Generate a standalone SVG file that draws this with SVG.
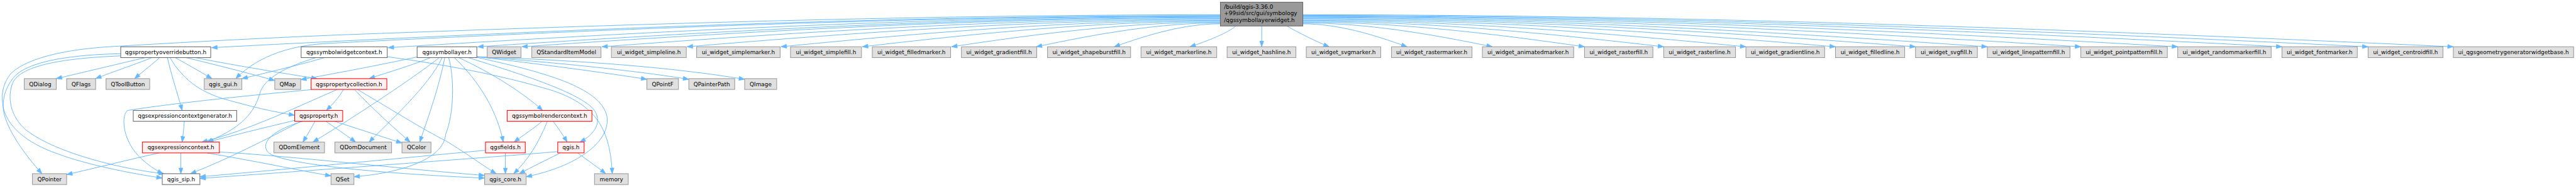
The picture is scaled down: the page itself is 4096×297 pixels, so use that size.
<svg xmlns="http://www.w3.org/2000/svg" width="4096" height="297" viewBox="0 0 4096 297">
<style>
text{font-family:"DejaVu Sans","Liberation Sans",sans-serif;font-size:13px;fill:#000;text-anchor:middle}
.root text{text-anchor:start}
rect{stroke-width:1.5}
.w rect{fill:#fff;stroke:#666}
.g rect{fill:#e0e0e0;stroke:#999}
.r rect{fill:#fff0f0;stroke:#f00}
.root rect{fill:#999;stroke:#666}
#edges path{fill:none;stroke:#63b8ff;stroke-width:1.4;marker-end:url(#ah)}
</style>
<defs>
<marker id="ah" markerUnits="userSpaceOnUse" markerWidth="14" markerHeight="10" refX="13" refY="4.7" orient="auto" overflow="visible"><path d="M0,0 L13,4.7 L0,9.4 z" fill="#63b8ff" stroke="#63b8ff" stroke-width="1"/></marker>
</defs>
<rect width="4096" height="297" fill="#fff" stroke="none"/>
<g transform="scale(0.688)">
<g id="edges">
<path d="M2820,36 C2043,36 1266,69.3 489,110"/>
<path d="M2820,38 C2179,38 1538,70.4 897,110"/>
<path d="M2820,39.5 C2248,39.5 1676,70.3 1104,108"/>
<path d="M2820,41 C2282,41 1744,71.2 1206,108"/>
<path d="M2820,43 C2344,43 1867,72.3 1391,108"/>
<path d="M2820,45 C2409,45 1999,73.4 1588,108"/>
<path d="M2820,47 C2482,47 2143,74.5 1805,108"/>
<path d="M2820,49 C2544,49 2269,75.6 1993,108"/>
<path d="M2820,51 C2613,51 2406,76.7 2199,108"/>
<path d="M2820,53 C2678,53 2537,77.8 2395,108"/>
<path d="M2820,55 C2738,55 2657,78.9 2575,108"/>
<path d="M2856,60 C2840,75 2790,95 2750,108"/>
<path d="M2820,37 C2050,37 1250,75 760,100 C680,104 600,125 545,181.5"/>
<path d="M2820,34 C2050,34 1300,62 800,80 C600,88 420,98 267,107 C150,113 60,135 25,170 C5,195 3,220 7,245 C15,290 60,330 133,355 C200,380 300,400 375,411"/>
<path d="M2916,60 L2916,108"/>
<path d="M2974,60 C3000,75 3040,95 3072,108"/>
<path d="M3011,55 C3091,55 3172,78.9 3252,108"/>
<path d="M3011,53 C3157,53 3303,77.8 3449,108"/>
<path d="M3011,51 C3228,51 3445,76.7 3662,108"/>
<path d="M3011,49 C3289,49 3567,75.6 3845,108"/>
<path d="M3011,47 C3352,47 3694,74.5 4035,108"/>
<path d="M3011,45 C3421,45 3832,73.4 4242,108"/>
<path d="M3011,43 C3483,43 3955,72.3 4427,108"/>
<path d="M3011,41 C3538,41 4066,71.2 4593,108"/>
<path d="M3011,39.5 C3610,39.5 4210,70.3 4809,108"/>
<path d="M3011,38 C3685,38 4359,69.5 5033,108"/>
<path d="M3011,37 C3765,37 4520,69 5274,108"/>
<path d="M3011,35.5 C3832,35.5 4652,68.1 5473,108"/>
<path d="M3011,34 C3897,34 4784,67.3 5670,108"/>
<path d="M336,133 C280,146 180,170 130,181.5"/>
<path d="M351,133 C320,146 260,166 221,181.5"/>
<path d="M369,133 C355,146 330,165 311,181.5"/>
<path d="M387,133 C395,170 410,215 421,255"/>
<path d="M393,133 C420,180 460,212 520,229 C580,246 630,258 681,266"/>
<path d="M405,133 C430,147 460,164 490,181.5"/>
<path d="M430,133 C500,150 580,170 635,186"/>
<path d="M452,133 C520,147 640,167 733,181.5"/>
<path d="M279,124 C170,126 70,140 35,175 C12,200 5,230 8,255 C15,300 60,360 97,401"/>
<path d="M279,129 C150,134 50,150 30,190 C15,225 25,270 60,300 C130,355 290,392 380,401"/>
<path d="M750,133 C700,148 620,167 559,181.5"/>
<path d="M730,133 C660,155 610,180 600,217 C585,270 545,300 478,328"/>
<path d="M895,131 C1000,145 1150,170 1280,210 C1380,245 1410,300 1415,401"/>
<path d="M966,131 C880,150 760,172 695,184"/>
<path d="M995,133 C960,148 900,166 853,181.5"/>
<path d="M1015,133 C970,170 820,270 723,328"/>
<path d="M1022,133 C990,200 900,280 853,328"/>
<path d="M1028,133 C1015,200 990,270 970,328"/>
<path d="M1037,133 C1050,180 1050,260 1030,310 C1025,370 920,400 818,408"/>
<path d="M1050,133 C1110,190 1150,260 1163,328"/>
<path d="M1060,133 C1140,170 1210,215 1254,255"/>
<path d="M1082,133 C1200,170 1330,210 1370,250 C1395,280 1375,310 1340,328"/>
<path d="M1100,132 C1250,165 1390,200 1403,270 C1410,330 1330,385 1216,408"/>
<path d="M1102,131 C1250,148 1400,168 1495,183"/>
<path d="M1102,131 C1300,145 1480,165 1592,183"/>
<path d="M1102,131 C1350,140 1550,155 1721,183"/>
<path d="M794,206.5 C785,222 770,240 754,255"/>
<path d="M819,206.5 C860,250 910,295 948,328"/>
<path d="M826,206.5 C900,250 980,300 1030,325 C1080,355 1120,385 1147,401"/>
<path d="M780,206.5 C700,240 580,300 466,328"/>
<path d="M719,207 C600,218 400,238 295,255 C280,265 282,320 320,360 C340,380 360,393 377,401"/>
<path d="M728,280 C720,295 710,312 700,328"/>
<path d="M753,280 C775,295 800,312 822,328"/>
<path d="M773,280 C830,298 890,318 929,330"/>
<path d="M700,280 C630,300 600,330 620,352 C650,380 900,402 1120,411"/>
<path d="M695,280 C620,320 520,370 440,401"/>
<path d="M681,278 C610,295 540,312 480,328"/>
<path d="M426,280 C425,295 423,312 421,328"/>
<path d="M368,353 C300,368 220,388 154,403"/>
<path d="M418,353 L418,401"/>
<path d="M478,353 C580,370 700,395 765,406"/>
<path d="M507,351 C650,358 950,392 1120,405"/>
<path d="M1253,280 C1235,295 1210,312 1188,328"/>
<path d="M1265,280 C1245,330 1220,370 1187,401"/>
<path d="M1278,280 C1290,295 1300,310 1311,328"/>
<path d="M1168,353 L1168,401"/>
<path d="M1122,347 C1000,358 650,392 462,408"/>
<path d="M1295,353 C1265,368 1230,385 1200,401"/>
<path d="M1335,353 C1355,368 1380,385 1400,401"/>
<path d="M1289,350 C1150,362 700,395 462,412"/>
</g>
<g id="node-root" class="root"><rect x="2820.5" y="5" width="190.5" height="55"/><text x="2829" y="20.5">/build/qgis-3.36.0</text><text x="2829" y="35.5">+99sid/src/gui/symbology</text><text x="2829" y="50.5">/qgssymbollayerwidget.h</text></g>
<g id="node-qgspropertyoverridebutton" class="w"><rect x="279" y="108" width="208" height="25"/><text x="383" y="125">qgspropertyoverridebutton.h</text></g>
<g id="node-qgssymbolwidgetcontext" class="w"><rect x="696" y="108" width="199" height="25"/><text x="795.5" y="125">qgssymbolwidgetcontext.h</text></g>
<g id="node-qgssymbollayer" class="w"><rect x="964" y="108" width="138" height="25"/><text x="1033" y="125">qgssymbollayer.h</text></g>
<g id="node-QWidget" class="g"><rect x="1126" y="108" width="78" height="25"/><text x="1165" y="125">QWidget</text></g>
<g id="node-QStandardItemModel" class="g"><rect x="1229" y="108" width="160" height="25"/><text x="1309" y="125">QStandardItemModel</text></g>
<g id="node-ui_widget_simpleline" class="g"><rect x="1413" y="108" width="173" height="25"/><text x="1499.5" y="125">ui_widget_simpleline.h</text></g>
<g id="node-ui_widget_simplemarker" class="g"><rect x="1610" y="108" width="193" height="25"/><text x="1706.5" y="125">ui_widget_simplemarker.h</text></g>
<g id="node-ui_widget_simplefill" class="g"><rect x="1827" y="108" width="164" height="25"/><text x="1909" y="125">ui_widget_simplefill.h</text></g>
<g id="node-ui_widget_filledmarker" class="g"><rect x="2016" y="108" width="181" height="25"/><text x="2106.5" y="125">ui_widget_filledmarker.h</text></g>
<g id="node-ui_widget_gradientfill" class="g"><rect x="2222" y="108" width="174" height="25"/><text x="2309" y="125">ui_widget_gradientfill.h</text></g>
<g id="node-ui_widget_shapeburstfill" class="g"><rect x="2421" y="108" width="192" height="25"/><text x="2517" y="125">ui_widget_shapeburstfill.h</text></g>
<g id="node-ui_widget_markerline" class="g"><rect x="2637" y="108" width="175" height="25"/><text x="2724.5" y="125">ui_widget_markerline.h</text></g>
<g id="node-ui_widget_hashline" class="g"><rect x="2836" y="108" width="159" height="25"/><text x="2915.5" y="125">ui_widget_hashline.h</text></g>
<g id="node-ui_widget_svgmarker" class="g"><rect x="3019" y="108" width="172" height="25"/><text x="3105" y="125">ui_widget_svgmarker.h</text></g>
<g id="node-ui_widget_rastermarker" class="g"><rect x="3216" y="108" width="186" height="25"/><text x="3309" y="125">ui_widget_rastermarker.h</text></g>
<g id="node-ui_widget_animatedmarker" class="g"><rect x="3426" y="108" width="211" height="25"/><text x="3531.5" y="125">ui_widget_animatedmarker.h</text></g>
<g id="node-ui_widget_rasterfill" class="g"><rect x="3662" y="108" width="158" height="25"/><text x="3741" y="125">ui_widget_rasterfill.h</text></g>
<g id="node-ui_widget_rasterline" class="g"><rect x="3845" y="108" width="166" height="25"/><text x="3928" y="125">ui_widget_rasterline.h</text></g>
<g id="node-ui_widget_gradientline" class="g"><rect x="4035" y="108" width="182" height="25"/><text x="4126" y="125">ui_widget_gradientline.h</text></g>
<g id="node-ui_widget_filledline" class="g"><rect x="4242" y="108" width="160" height="25"/><text x="4322" y="125">ui_widget_filledline.h</text></g>
<g id="node-ui_widget_svgfill" class="g"><rect x="4427" y="108" width="143" height="25"/><text x="4498.5" y="125">ui_widget_svgfill.h</text></g>
<g id="node-ui_widget_linepatternfill" class="g"><rect x="4593" y="108" width="191" height="25"/><text x="4688.5" y="125">ui_widget_linepatternfill.h</text></g>
<g id="node-ui_widget_pointpatternfill" class="g"><rect x="4809" y="108" width="200" height="25"/><text x="4909" y="125">ui_widget_pointpatternfill.h</text></g>
<g id="node-ui_widget_randommarkerfill" class="g"><rect x="5033" y="108" width="216" height="25"/><text x="5141" y="125">ui_widget_randommarkerfill.h</text></g>
<g id="node-ui_widget_fontmarker" class="g"><rect x="5274" y="108" width="174" height="25"/><text x="5361" y="125">ui_widget_fontmarker.h</text></g>
<g id="node-ui_widget_centroidfill" class="g"><rect x="5473" y="108" width="173" height="25"/><text x="5559.5" y="125">ui_widget_centroidfill.h</text></g>
<g id="node-ui_qgsgeometrygeneratorwidgetbase" class="g"><rect x="5670" y="108" width="278" height="25"/><text x="5809" y="125">ui_qgsgeometrygeneratorwidgetbase.h</text></g>
<g id="node-QDialog" class="g"><rect x="56" y="181.5" width="74" height="25"/><text x="93" y="198.5">QDialog</text></g>
<g id="node-QFlags" class="g"><rect x="154" y="181.5" width="67" height="25"/><text x="187.5" y="198.5">QFlags</text></g>
<g id="node-QToolButton" class="g"><rect x="245" y="181.5" width="101" height="25"/><text x="295.5" y="198.5">QToolButton</text></g>
<g id="node-qgis_gui" class="g"><rect x="472" y="181.5" width="87" height="25"/><text x="515.5" y="198.5">qgis_gui.h</text></g>
<g id="node-QMap" class="g"><rect x="635" y="181.5" width="60" height="25"/><text x="665" y="198.5">QMap</text></g>
<g id="node-qgspropertycollection" class="r"><rect x="719" y="181.5" width="175" height="25"/><text x="806.5" y="198.5">qgspropertycollection.h</text></g>
<g id="node-QPointF" class="g"><rect x="1495" y="181.5" width="73" height="25"/><text x="1531.5" y="198.5">QPointF</text></g>
<g id="node-QPainterPath" class="g"><rect x="1592" y="181.5" width="106" height="25"/><text x="1645" y="198.5">QPainterPath</text></g>
<g id="node-QImage" class="g"><rect x="1721" y="181.5" width="74" height="25"/><text x="1758" y="198.5">QImage</text></g>
<g id="node-qgsexpressioncontextgenerator" class="w"><rect x="308" y="255" width="239" height="25"/><text x="427.5" y="272">qgsexpressioncontextgenerator.h</text></g>
<g id="node-qgsproperty" class="r"><rect x="681" y="255" width="111" height="25"/><text x="736.5" y="272">qgsproperty.h</text></g>
<g id="node-qgssymbolrendercontext" class="r"><rect x="1172" y="255" width="196" height="25"/><text x="1270" y="272">qgssymbolrendercontext.h</text></g>
<g id="node-qgsexpressioncontext" class="r"><rect x="329" y="328" width="178" height="25"/><text x="418" y="345">qgsexpressioncontext.h</text></g>
<g id="node-QDomElement" class="g"><rect x="633" y="328" width="117" height="25"/><text x="691.5" y="345">QDomElement</text></g>
<g id="node-QDomDocument" class="g"><rect x="774" y="328" width="131" height="25"/><text x="839.5" y="345">QDomDocument</text></g>
<g id="node-QColor" class="g"><rect x="929" y="328" width="67" height="25"/><text x="962.5" y="345">QColor</text></g>
<g id="node-qgsfields" class="r"><rect x="1122" y="328" width="92" height="25"/><text x="1168" y="345">qgsfields.h</text></g>
<g id="node-qgis" class="r"><rect x="1289" y="328" width="61" height="25"/><text x="1319.5" y="345">qgis.h</text></g>
<g id="node-QPointer" class="g"><rect x="75" y="401" width="79" height="25"/><text x="114.5" y="418">QPointer</text></g>
<g id="node-qgis_sip" class="w"><rect x="375" y="401" width="87" height="25"/><text x="418.5" y="418">qgis_sip.h</text></g>
<g id="node-QSet" class="g"><rect x="765" y="401" width="53" height="25"/><text x="791.5" y="418">QSet</text></g>
<g id="node-qgis_core" class="g"><rect x="1120" y="401" width="96" height="25"/><text x="1168" y="418">qgis_core.h</text></g>
<g id="node-memory" class="g"><rect x="1374" y="401" width="78" height="25"/><text x="1413" y="418">memory</text></g>
</g>
</svg>
